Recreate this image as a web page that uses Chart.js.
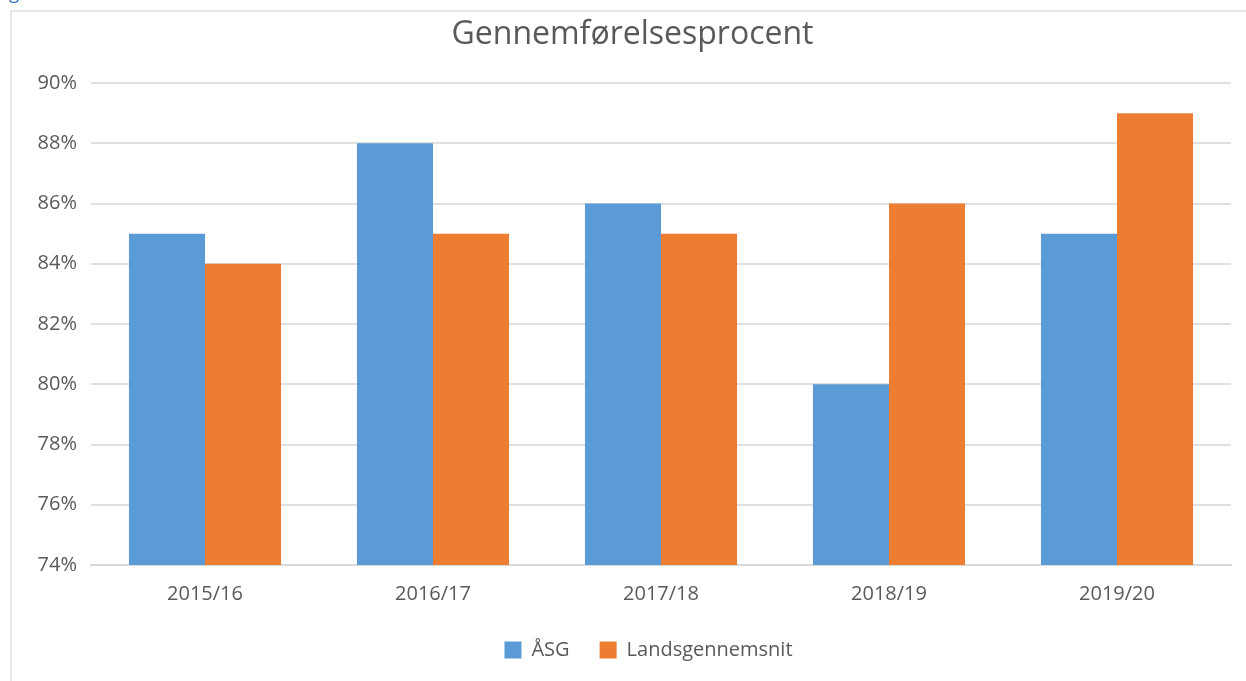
<!DOCTYPE html>
<html>
<head>
<meta charset="utf-8">
<script src="https://cdn.jsdelivr.net/npm/chart.js@4/dist/chart.umd.min.js"></script>
<style>
  html, body { margin: 0; padding: 0; background: #fff; overflow: hidden; }
  body { width: 1246px; height: 681px; position: relative; }
  #frame { position: absolute; left: 10px; top: 10px; width: 1300px; height: 800px; border: 2px solid #e6e6e6; box-sizing: border-box; }
  #cap { position: absolute; left: 9px; top: -20px; font: 18px "Open Sans", sans-serif; color: #2e74b5; }
  #wrap { position: absolute; left: 0; top: 0; width: 1246px; height: 681px; }
</style>
</head>
<body>
<div id="frame"></div>
<div id="cap">g</div>
<div id="wrap"><canvas id="c" width="1246" height="681"></canvas></div>
<script>
const categories = ["2015/16", "2016/17", "2017/18", "2018/19", "2019/20"];
const asgValues = [85, 88, 86, 80, 85];
const landsValues = [84, 85, 85, 86, 89];
const seriesNames = ["ÅSG", "Landsgennemsnit"];
const chartTitle = "Gennemførelsesprocent";

const FONT = '"Open Sans", "Noto Sans", sans-serif';
const TXT = '#595959';

// shift title and legend centres slightly right, as in the reference
const shiftBlocks = {
  id: 'shiftBlocks',
  afterLayout(chart) {
    if (chart.titleBlock) { chart.titleBlock.left += 34; chart.titleBlock.width -= 34; }
    if (chart.legend) { chart.legend.left += 66; chart.legend.width -= 66; }
  }
};

new Chart(document.getElementById('c'), {
  type: 'bar',
  data: {
    labels: categories,
    datasets: [
      { label: seriesNames[0], data: asgValues, backgroundColor: '#5B9BD5', borderWidth: 0 },
      { label: seriesNames[1], data: landsValues, backgroundColor: '#ED7D31', borderWidth: 0 }
    ]
  },
  plugins: [shiftBlocks],
  options: {
    responsive: false,
    animation: false,
    events: [],
    layout: { padding: { left: 0, right: 15, top: 0, bottom: 11 } },
    datasets: { bar: { categoryPercentage: 0.667, barPercentage: 1.0 } },
    plugins: {
      title: {
        display: true, text: chartTitle, color: TXT,
        font: { family: FONT, size: 32, weight: 'normal' },
        padding: { top: 16, bottom: 28.6 }
      },
      legend: {
        position: 'bottom',
        labels: {
          color: TXT, boxWidth: 17, boxHeight: 17, padding: 30,
          font: { family: FONT, size: 20 }
        }
      },
      tooltip: { enabled: false }
    },
    scales: {
      x: {
        grid: { display: false, drawTicks: false },
        border: { display: true, color: '#d9d9d9', width: 2 },
        ticks: { color: TXT, font: { family: FONT, size: 20 }, padding: 17 },
        afterFit: s => { s.height = 45; }
      },
      y: {
        min: 74, max: 90,
        grid: { color: '#e0e0e0', lineWidth: 2, drawTicks: false },
        border: { display: false },
        ticks: { stepSize: 2, color: TXT, font: { family: FONT, size: 20 }, padding: 14,
                 callback: v => v + '%' },
        afterFit: s => { s.width = 91; }
      }
    }
  }
});
</script>
</body>
</html>
